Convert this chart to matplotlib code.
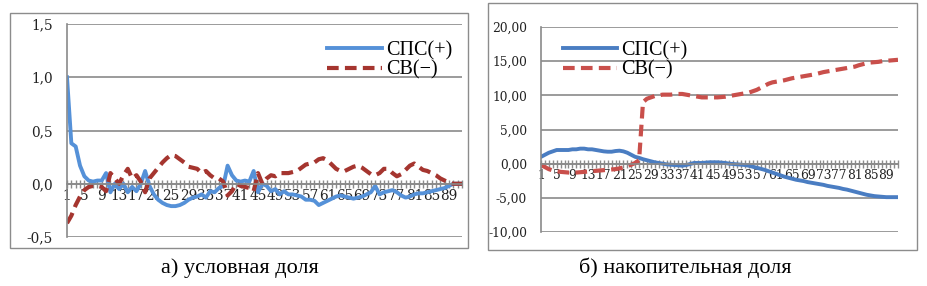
import matplotlib.pyplot as plt
from matplotlib.patches import Rectangle
import numpy as np

# conditional share (left panel)
spc_cond = [1.00, 0.38, 0.35, 0.17, 0.07, 0.03, 0.02, 0.03, 0.03, 0.10,
            -0.08, 0.00, -0.05, 0.00, -0.08, -0.03, -0.07, 0.00, 0.12, -0.02,
            -0.10, -0.15, -0.18, -0.20, -0.21, -0.21, -0.20, -0.18, -0.15, -0.13,
            -0.12, -0.10, -0.13, -0.07, -0.08, -0.04, -0.02, 0.17, 0.08, 0.03,
            0.02, 0.03, 0.02, 0.12, -0.08, 0.00, -0.02, -0.07, -0.05, -0.10,
            -0.07, -0.10, -0.10, -0.11, -0.12, -0.15, -0.15, -0.16, -0.20, -0.18,
            -0.16, -0.14, -0.12, -0.11, -0.12, -0.13, -0.14, -0.13, -0.12, -0.10,
            -0.08, -0.02, -0.10, -0.08, -0.07, -0.06, -0.08, -0.11, -0.13, -0.12,
            -0.10, -0.09, -0.09, -0.08, -0.07, -0.06, -0.05, -0.04, -0.02, 0.00,
            0.00, 0.00]
sv_cond = [-0.37, -0.30, -0.20, -0.12, -0.06, -0.03, -0.02, -0.02, -0.03, -0.07,
           0.10, 0.05, 0.00, 0.08, 0.14, 0.05, 0.08, 0.02, -0.08, 0.05,
           0.10, 0.15, 0.20, 0.24, 0.27, 0.26, 0.23, 0.20, 0.16, 0.15,
           0.14, 0.10, 0.12, 0.08, 0.05, 0.05, 0.02, -0.11, -0.07, 0.00,
           -0.02, -0.03, -0.04, -0.07, 0.10, 0.00, 0.05, 0.08, 0.07, 0.10,
           0.10, 0.10, 0.11, 0.12, 0.15, 0.18, 0.19, 0.20, 0.23, 0.24,
           0.22, 0.18, 0.14, 0.12, 0.12, 0.14, 0.16, 0.17, 0.15, 0.12,
           0.09, 0.08, 0.10, 0.14, 0.14, 0.10, 0.07, 0.09, 0.13, 0.17,
           0.19, 0.16, 0.13, 0.12, 0.10, 0.08, 0.05, 0.03, 0.01, 0.00,
           0.00, 0.00]

# cumulative share (right panel)
spc_cum = [1.0, 1.3, 1.6, 1.8, 2.0, 2.0, 2.0, 2.0, 2.1, 2.1,
           2.2, 2.2, 2.1, 2.1, 2.0, 1.9, 1.8, 1.75, 1.75, 1.85,
           1.9, 1.8, 1.6, 1.3, 1.0, 0.85, 0.65, 0.5, 0.35, 0.2,
           0.1, 0.0, -0.1, -0.15, -0.2, -0.25, -0.3, -0.2, -0.05, 0.1,
           0.1, 0.1, 0.15, 0.2, 0.2, 0.2, 0.15, 0.1, 0.0, -0.05,
           -0.1, -0.15, -0.2, -0.3, -0.45, -0.6, -0.75, -0.9, -1.1, -1.3,
           -1.5, -1.7, -1.9, -2.05, -2.2, -2.35, -2.45, -2.55, -2.7, -2.8,
           -2.9, -3.0, -3.1, -3.25, -3.35, -3.45, -3.55, -3.7, -3.8, -3.95,
           -4.1, -4.25, -4.4, -4.55, -4.65, -4.75, -4.8, -4.85, -4.9, -4.9,
           -4.9, -4.9]
sv_cum = [-0.2, -0.5, -0.8, -1.0, -1.1, -1.2, -1.25, -1.3, -1.3, -1.3,
          -1.25, -1.2, -1.15, -1.1, -1.05, -1.0, -0.95, -0.9, -0.85, -0.8,
          -0.7, -0.55, -0.35, -0.15, 0.1, 0.5, 9.0, 9.5, 9.7, 9.9,
          10.0, 10.1, 10.1, 10.1, 10.15, 10.2, 10.2, 10.1, 10.0, 9.9,
          9.8, 9.7, 9.7, 9.7, 9.7, 9.7, 9.75, 9.8, 9.9, 10.0,
          10.1, 10.2, 10.3, 10.4, 10.6, 10.8, 11.1, 11.4, 11.7, 11.9,
          12.0, 12.1, 12.2, 12.35, 12.5, 12.6, 12.7, 12.8, 12.9, 13.0,
          13.1, 13.25, 13.4, 13.5, 13.6, 13.7, 13.8, 13.9, 14.0, 14.1,
          14.2, 14.4, 14.55, 14.7, 14.8, 14.85, 14.9, 15.0, 15.05, 15.1,
          15.15, 15.2]

x = np.arange(1, len(spc_cond) + 1)
x_labels = [str(i) if (i - 1) % 4 == 0 and i <= 89 else "" for i in x]

left_yticks = [-0.5, 0.0, 0.5, 1.0, 1.5]
left_ylabels = ["-0,5", "0,0", "0,5", "1,0", "1,5"]
right_yticks = [-10, -5, 0, 5, 10, 15, 20]
right_ylabels = ["-10,00", "-5,00", "0,00", "5,00", "10,00", "15,00", "20,00"]

legend_names = ["СПС(+)", "СВ(−)"]
captions = ["а) условная доля", "б) накопительная доля"]

GRID = "#8a8a8a"
TICK_FONT = "DejaVu Serif"
SERIF = "Liberation Serif"

fig = plt.figure(figsize=(9.28, 2.86), dpi=100)

# outer chart frames
for (x0, y0, x1, y1) in [(10, 13, 468, 248), (488, 3, 917, 250)]:
    fig.patches.append(Rectangle((x0 / 928, 1 - y1 / 286), (x1 - x0) / 928, (y1 - y0) / 286,
                                 transform=fig.transFigure, fill=False,
                                 edgecolor="#8c8c8c", linewidth=1.0))


def setup_axes(ax, yticks, ylabels, ylim, fsize):
    ax.set_xlim(x[0], x[-1])
    ax.set_ylim(*ylim)
    ax.set_yticks(yticks)
    ax.set_yticklabels(ylabels, fontfamily=TICK_FONT, fontsize=fsize)
    ax.yaxis.grid(True, color=GRID, linewidth=1.2)
    ax.set_axisbelow(True)
    for side in ["top", "right"]:
        ax.spines[side].set_visible(False)
    ax.spines["left"].set_color(GRID)
    ax.spines["left"].set_linewidth(1.2)
    ax.spines["bottom"].set_position(("data", 0))
    ax.spines["bottom"].set_color(GRID)
    ax.spines["bottom"].set_linewidth(1.2)
    ax.tick_params(axis="y", length=0, pad=10, colors="#222222")
    ax.set_xticks(x)
    ax.set_xticklabels(x_labels, fontfamily=TICK_FONT, fontsize=fsize)
    ax.tick_params(axis="x", direction="inout", length=5.5, width=1.0, color=GRID,
                   pad=1, labelcolor="#222222")
    ax.patch.set_alpha(0)


# left panel
ax1 = fig.add_axes([67 / 928, 1 - 237 / 286, 395 / 928, 213 / 286])
setup_axes(ax1, left_yticks, left_ylabels, (-0.5, 1.5), 9.8)
l1, = ax1.plot(x, spc_cond, color="#5591D8", linewidth=2.8, solid_joinstyle="round")
l2, = ax1.plot(x, sv_cond, color="#A5352F", linewidth=3.0, linestyle=(0, (2.8, 1.5)))
ax1.legend([l1, l2], legend_names, loc="upper right", bbox_to_anchor=(462 / 928, 1 - 31 / 286),
           bbox_transform=fig.transFigure, frameon=False, borderpad=0, handlelength=2.7,
           handletextpad=0.2, labelspacing=0.0, prop={"family": SERIF, "size": 14.5})

# right panel
ax2 = fig.add_axes([541 / 928, 1 - 232 / 286, 357 / 928, 205 / 286])
setup_axes(ax2, right_yticks, right_ylabels, (-10, 20), 8.8)
r1, = ax2.plot(x, spc_cum, color="#4A7DC2", linewidth=2.8, solid_joinstyle="round")
r2, = ax2.plot(x, sv_cum, color="#C94F4B", linewidth=3.0, linestyle=(0, (2.8, 1.5)))
ax2.legend([r1, r2], legend_names, loc="upper left", bbox_to_anchor=(553 / 928, 1 - 31 / 286),
           bbox_transform=fig.transFigure, frameon=False, borderpad=0, handlelength=2.7,
           handletextpad=0.2, labelspacing=0.0, prop={"family": SERIF, "size": 14.5})

fig.text(240 / 928, 1 - 268 / 286, captions[0], ha="center", va="center",
         fontfamily=SERIF, fontsize=16)
fig.text(685 / 928, 1 - 268 / 286, captions[1], ha="center", va="center",
         fontfamily=SERIF, fontsize=16)

fig.savefig("out.png", dpi=100)
